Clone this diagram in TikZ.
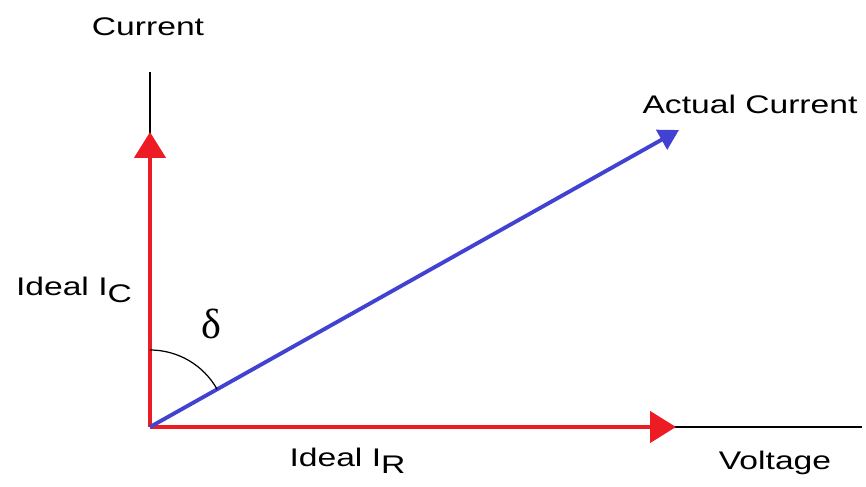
\documentclass[tikz,border=0pt]{standalone}
\usepackage{fontspec}
\setmainfont{Liberation Sans}
\newfontfamily\greekfont{Liberation Serif}
\usetikzlibrary{
  arrows.meta,  % Triangle 箭头
  calc          % 坐标计算
}
\definecolor{idealred}{RGB}{237,28,36}
\definecolor{actualblue}{RGB}{66,66,210}

\begin{document}
\begin{tikzpicture}[>=Stealth,
  lbl/.style={font=\fontsize{14.5}{17}\selectfont, xscale=1.32, transform shape, inner sep=0pt},
  axis/.style={line width=0.8pt, black},
  ideal/.style={line width=2.6pt, idealred, -{Triangle[length=0.52cm, width=0.62cm]}},
  actual/.style={line width=2.2pt, actualblue, -{Triangle[length=0.4cm, width=0.44cm]}}
]

  % =========== 画布范围 ===========
  \useasboundingbox (-3.0, -1.2) rectangle (14.32, 8.54);

  % =========== 基础坐标定义 ===========
  \coordinate (O)  at (0, 0);
  \coordinate (Y)  at (0, 7.1);
  \coordinate (X)  at (14.24, 0);
  \coordinate (IC) at (0, 5.9);
  \coordinate (IR) at (10.52, 0);
  \coordinate (I)  at (10.58, 5.94);

  % =========== 坐标轴 (黑色) ===========
  \draw[axis] (O) -- (Y);
  \draw[axis] (O) -- (X);

  % =========== 理想电流分量 (红色) ===========
  \draw[ideal] (O) -- (IC);
  \draw[ideal] (O) -- (IR);

  % =========== 实际电流 (蓝色) ===========
  \draw[actual] (O) -- (I);

  % =========== 损耗角 delta ===========
  \draw[line width=0.7pt] (0, 1.54) arc[start angle=90, end angle=29.3, radius=1.54];

  % =========== 文字标注 ===========
  \node[lbl] (current) at (-0.04, 8.0) {Current};
  \node[lbl] (actual) at (12.0, 6.46) {Actual Current};
  \node[lbl] (idealC) at (-1.52, 2.74) {Ideal I\raisebox{-0.55ex}{C}};
  \node[lbl] (idealR) at (3.95, -0.68) {Ideal I\raisebox{-0.55ex}{R}};
  \node[lbl] (voltage) at (12.5, -0.72) {Voltage};
  \node[font=\fontsize{24}{28}\selectfont\greekfont, inner sep=0pt] (delta) at (1.22, 2.06) {δ};

\end{tikzpicture}
\end{document}
